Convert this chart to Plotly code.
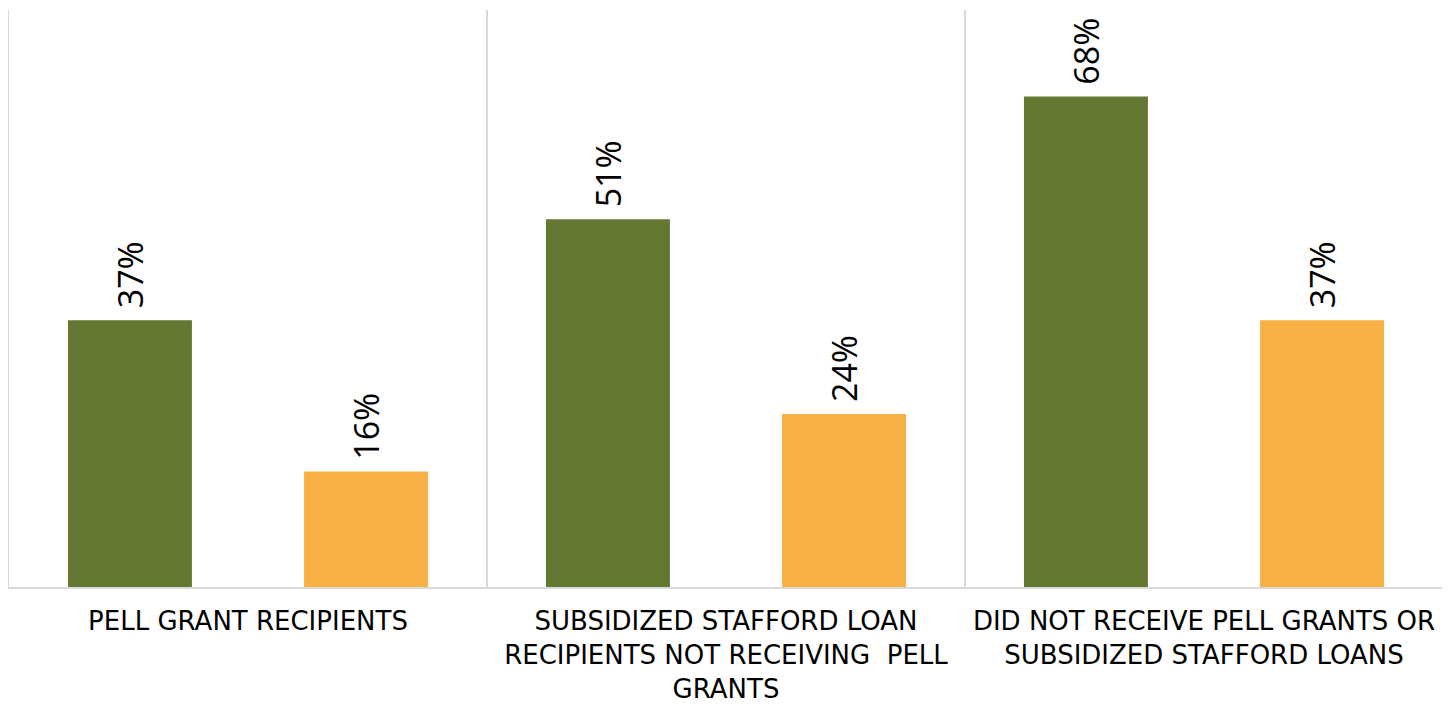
import plotly.graph_objects as go

categories = [
    "PELL GRANT RECIPIENTS",
    "SUBSIDIZED STAFFORD LOAN<br>RECIPIENTS NOT RECEIVING  PELL<br>GRANTS",
    "DID NOT RECEIVE PELL GRANTS OR<br>SUBSIDIZED STAFFORD LOANS",
]
series1_name = "Series 1"
series2_name = "Series 2"
series1_values = [37, 51, 68]
series2_values = [16, 24, 37]

GREEN = "#647832"
ORANGE = "#F7B043"
GRID = "#D9D9D9"

fig = go.Figure()
for name, vals, color in [(series1_name, series1_values, GREEN),
                          (series2_name, series2_values, ORANGE)]:
    fig.add_trace(go.Bar(
        x=categories, y=vals, name=name,
        marker=dict(color=color, line=dict(width=0)),
        text=[f"\u00a0{v}%" for v in vals],
        textposition="outside",
        textangle=-90,
        cliponaxis=False,
        textfont=dict(family="Open Sans", size=34, color="#000000"),
    ))

fig.update_layout(
    width=1450, height=705,
    margin=dict(l=1, r=15, t=2, b=126, autoexpand=False),
    paper_bgcolor="white", plot_bgcolor="white",
    barmode="group", bargap=0.012, bargroupgap=0.475,
    showlegend=False,
    font=dict(family="DejaVu Sans", color="#000000"),
    uniformtext=dict(mode=False),
)
fig.update_xaxes(
    automargin=False,
    tickson="boundaries", showgrid=True, gridcolor=GRID, gridwidth=1.5,
    showline=True, linecolor=GRID, linewidth=1.5, ticks="",
    tickfont=dict(family="DejaVu Sans", size=26, color="#000000"),
    ticklabelstandoff=10,
)
fig.update_yaxes(
    automargin=False,
    range=[0, 80], showgrid=False, showticklabels=False, zeroline=False,
    showline=True, linecolor=GRID, linewidth=1.5, mirror=True,
)
fig.write_html("out.html")
